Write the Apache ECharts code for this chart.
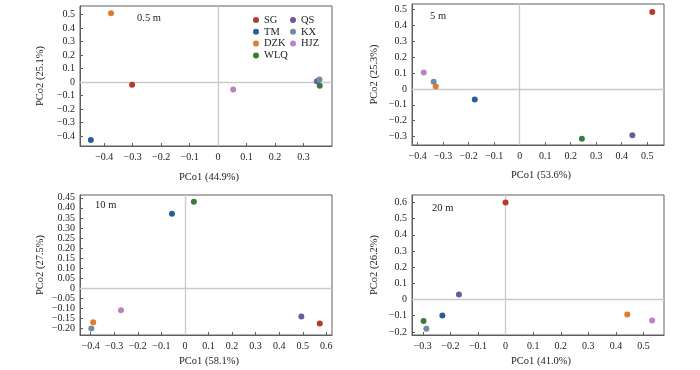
<!DOCTYPE html>
<html>
<head>
<meta charset="utf-8">
<script src="https://cdn.jsdelivr.net/npm/echarts@6/dist/echarts.min.js"></script>
<style>
html,body{margin:0;padding:0;background:#fff;}
#chart{width:700px;height:370px;}
</style>
</head>
<body>
<div id="chart"></div>
<script>
// Groups (sites) and colours
const groups = ['SG', 'TM', 'DZK', 'WLQ', 'QS', 'KX', 'HJZ'];
const groupColors = ['#b5392c', '#2f5b9b', '#e07b30', '#3b7a3b', '#6c5a9c', '#6f8da1', '#bd80c4'];

// Panel labels
const panelLabels = ['0.5 m', '5 m', '10 m', '20 m'];
const pc1Titles = ['PCo1 (44.9%)', 'PCo1 (53.6%)', 'PCo1 (58.1%)', 'PCo1 (41.0%)'];
const pc2Titles = ['PCo2 (25.1%)', 'PCo2 (25.3%)', 'PCo2 (27.5%)', 'PCo2 (26.2%)'];

// Scores (order follows groups)
const pc1_05m = [-0.302, -0.447, -0.376, 0.357, 0.347, 0.356, 0.053];
const pc2_05m = [-0.020, -0.430, 0.510, -0.028, 0.005, 0.018, -0.055];
const pc1_5m  = [0.520, -0.176, -0.329, 0.244, 0.442, -0.337, -0.376];
const pc2_5m  = [0.485, -0.067, 0.016, -0.313, -0.292, 0.046, 0.103];
const pc1_10m = [0.572, -0.055, -0.389, 0.038, 0.494, -0.397, -0.271];
const pc2_10m = [-0.176, 0.371, -0.170, 0.431, -0.141, -0.201, -0.110];
const pc1_20m = [0.000, -0.229, 0.441, -0.297, -0.169, -0.287, 0.531];
const pc2_20m = [0.600, -0.099, -0.093, -0.133, 0.031, -0.181, -0.130];

// Tick values
const xTicks_05m = [-0.4, -0.3, -0.2, -0.1, 0, 0.1, 0.2, 0.3];
const yTicks_05m = [-0.4, -0.3, -0.2, -0.1, 0, 0.1, 0.2, 0.3, 0.4, 0.5];
const xTicks_5m  = [-0.4, -0.3, -0.2, -0.1, 0, 0.1, 0.2, 0.3, 0.4, 0.5];
const yTicks_5m  = [-0.3, -0.2, -0.1, 0, 0.1, 0.2, 0.3, 0.4, 0.5];
const xTicks_10m = [-0.4, -0.3, -0.2, -0.1, 0, 0.1, 0.2, 0.3, 0.4, 0.5, 0.6];
const yTicks_10m = [-0.20, -0.15, -0.10, -0.05, 0, 0.05, 0.10, 0.15, 0.20, 0.25, 0.30, 0.35, 0.40, 0.45];
const xTicks_20m = [-0.3, -0.2, -0.1, 0, 0.1, 0.2, 0.3, 0.4, 0.5];
const yTicks_20m = [-0.2, -0.1, 0, 0.1, 0.2, 0.3, 0.4, 0.5, 0.6];

const pc1 = [pc1_05m, pc1_5m, pc1_10m, pc1_20m];
const pc2 = [pc2_05m, pc2_5m, pc2_10m, pc2_20m];
const xTicks = [xTicks_05m, xTicks_5m, xTicks_10m, xTicks_20m];
const yTicks = [yTicks_05m, yTicks_5m, yTicks_10m, yTicks_20m];
const yDecimals = [1, 1, 2, 1];

// Layout (pixels / axis extents)
const grids = [
  {left: 80, top: 6, width: 252, height: 140},
  {left: 412, top: 4, width: 252, height: 141},
  {left: 80, top: 195, width: 252, height: 140},
  {left: 412, top: 195, width: 252, height: 140}
];
const xRange = [[-0.485, 0.40], [-0.422, 0.566], [-0.445, 0.624], [-0.339, 0.574]];
const yRange = [[-0.475, 0.564], [-0.353, 0.535], [-0.233, 0.464], [-0.219, 0.646]];
const labelPos = [[137, 13], [430, 11], [95, 200], [432, 203]];
const xNameGap = [26, 25, 21, 21];
const yNameGap = [34, 32, 34, 32];

const FONT = '"Liberation Serif", "Times New Roman", serif';
const AX = '#5e5e5e';

function fmt(dec) {
  return function (v) {
    if (Math.abs(v) < 1e-9) return '0';
    return (v < 0 ? '\u2212' : '') + Math.abs(v).toFixed(dec);
  };
}

const xAxes = [], yAxes = [], series = [], titles = [];
for (let p = 0; p < 4; p++) {
  xAxes.push({
    type: 'value', gridIndex: p, min: xRange[p][0], max: xRange[p][1],
    name: pc1Titles[p], nameLocation: 'middle', nameGap: xNameGap[p],
    nameTextStyle: {fontFamily: FONT, fontSize: 10.5, color: '#222', padding: [0, 0, 0, 6]},
    axisLine: {show: true, onZero: false, lineStyle: {color: AX, width: 1}},
    axisTick: {show: true, inside: true, length: 3, customValues: xTicks[p], lineStyle: {color: AX}},
    axisLabel: {customValues: xTicks[p], formatter: fmt(1), fontFamily: FONT, fontSize: 10, color: '#222', margin: 6},
    splitLine: {show: false}
  });
  yAxes.push({
    type: 'value', gridIndex: p, min: yRange[p][0], max: yRange[p][1],
    name: pc2Titles[p], nameLocation: 'middle', nameGap: yNameGap[p],
    nameTextStyle: {fontFamily: FONT, fontSize: 10.5, color: '#222'},
    axisLine: {show: true, onZero: false, lineStyle: {color: AX, width: 1}},
    axisTick: {show: true, inside: true, length: 3, customValues: yTicks[p], lineStyle: {color: AX}},
    axisLabel: {customValues: yTicks[p], formatter: fmt(yDecimals[p]), fontFamily: FONT, fontSize: 10, color: '#222', margin: 5},
    splitLine: {show: false}
  });
  titles.push({
    text: panelLabels[p], left: labelPos[p][0], top: labelPos[p][1], padding: 0,
    textStyle: {fontFamily: FONT, fontSize: 10.5, fontWeight: 'normal', color: '#222'}
  });
  groups.forEach(function (g, i) {
    const s = {
      type: 'scatter', name: g, xAxisIndex: p, yAxisIndex: p,
      symbol: 'circle', symbolSize: 6,
      itemStyle: {color: groupColors[i], opacity: 1},
      data: [[pc1[p][i], pc2[p][i]]],
      z: 3
    };
    if (i === 0) {
      s.markLine = {
        silent: true, symbol: 'none', animation: false,
        label: {show: false},
        lineStyle: {color: '#c9c9c9', width: 1.3, type: 'solid'},
        emphasis: {disabled: true},
        data: [{xAxis: 0}, {yAxis: 0}],
        z: 1
      };
    }
    series.push(s);
  });
}

const legendCommon = {
  orient: 'vertical', icon: 'circle', itemWidth: 6, itemHeight: 6, itemGap: 0.8,
  padding: 0,
  textStyle: {fontFamily: FONT, fontSize: 10.5, color: '#222', lineHeight: 10}
};

const option = {
  animation: false,
  backgroundColor: '#fff',
  title: titles,
  legend: [
    Object.assign({}, legendCommon, {data: groups.slice(0, 4), left: 253, top: 14.5}),
    Object.assign({}, legendCommon, {data: groups.slice(4), left: 290, top: 14.5})
  ],
  grid: grids.map(function (g) {
    return Object.assign({show: true, borderColor: AX, borderWidth: 1, backgroundColor: 'transparent', containLabel: false}, g);
  }),
  xAxis: xAxes,
  yAxis: yAxes,
  series: series
};

const chart = echarts.init(document.getElementById('chart'), null, {renderer: 'canvas'});
chart.setOption(option);
</script>
</body>
</html>
